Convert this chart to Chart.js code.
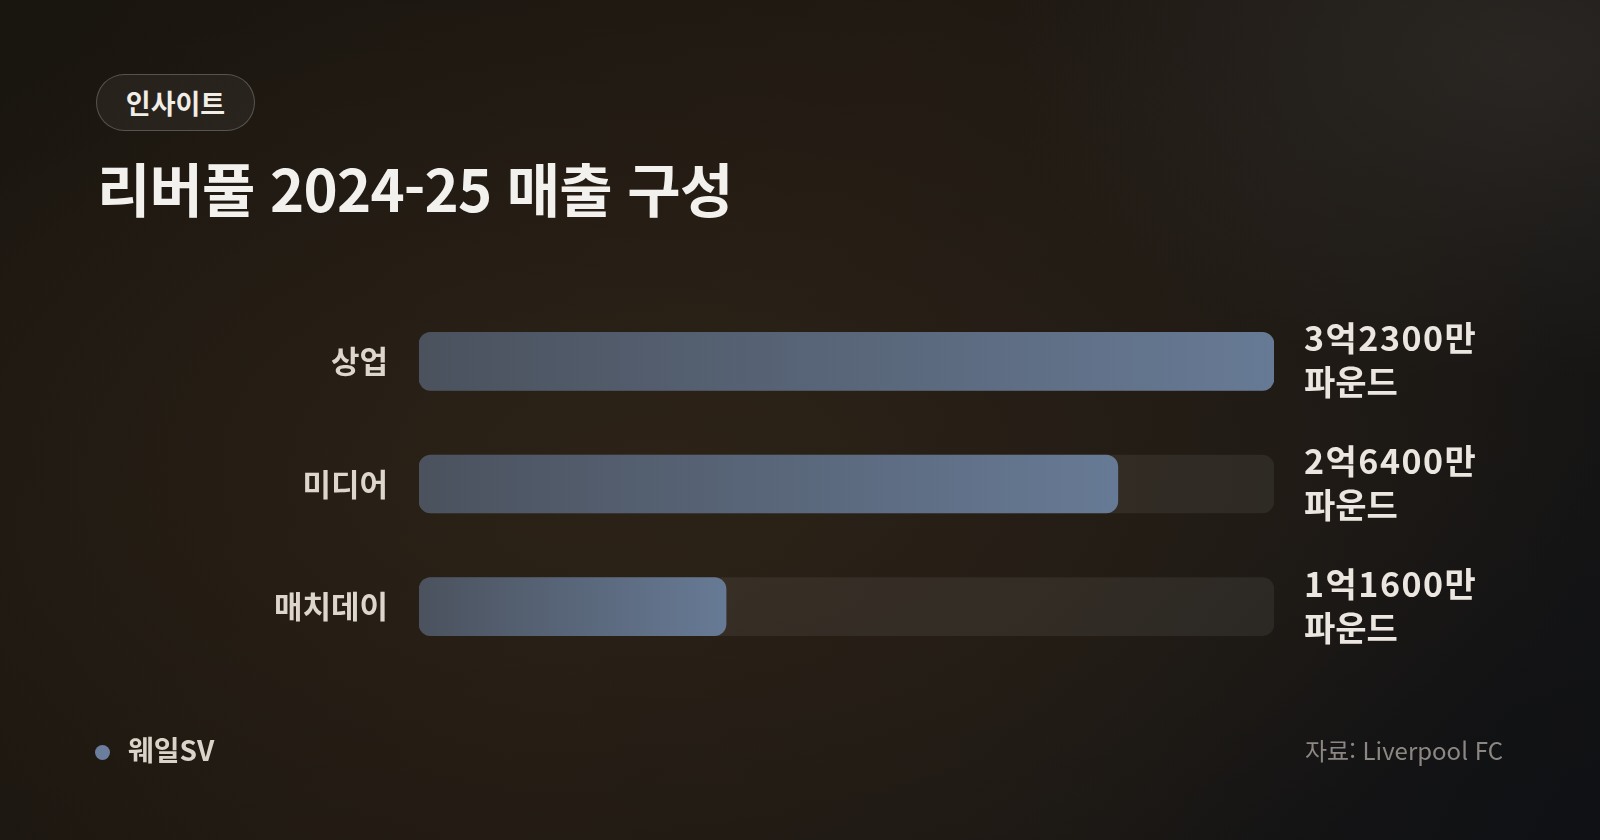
<!DOCTYPE html>
<html lang="ko">
<head>
<meta charset="utf-8">
<script src="https://cdn.jsdelivr.net/npm/chart.js@4.4.1/dist/chart.umd.min.js"></script>
<style>
  html, body { margin: 0; padding: 0; }
  body {
    width: 1600px; height: 840px; overflow: hidden; position: relative;
    font-family: "Noto Sans CJK KR", "Noto Sans", sans-serif;
    background:
      radial-gradient(ellipse 520px 320px at 1520px 60px, rgba(70,66,62,0.35), rgba(70,66,62,0)),
      radial-gradient(ellipse 950px 520px at 650px 470px, rgba(45,35,24,0.95), rgba(45,35,24,0)),
      radial-gradient(ellipse 600px 400px at 1600px 840px, rgba(16,17,20,0.9), rgba(16,17,20,0)),
      linear-gradient(120deg, #19150f 0%, #201912 45%, #1a1714 75%, #121315 100%);
  }
  .pill {
    position: absolute; left: 96px; top: 74px; width: 157px; height: 55px;
    border: 1px solid rgba(255,255,255,0.22); border-radius: 29px;
    background: rgba(255,255,255,0.05);
    color: #f1ede7; font-weight: 700; font-size: 27px;
    display: flex; align-items: center; justify-content: center;
  }
  .title {
    position: absolute; left: 97px; top: 158px;
    color: #f3f1ee; font-weight: 700; font-size: 58px; line-height: 1;
    letter-spacing: -0.8px; white-space: nowrap;
  }
  #chart { position: absolute; left: 0; top: 0; }
  .brand {
    position: absolute; left: 95px; top: 731px; height: 36px;
    display: flex; align-items: center;
    color: #dad3c9; font-weight: 700; font-size: 28px;
  }
  .brand .dot {
    width: 15px; height: 15px; border-radius: 50%; background: #6b7e9e;
    margin-right: 18px; margin-top: 6px;
  }
  .source {
    position: absolute; right: 97px; top: 731px; height: 36px;
    display: flex; align-items: center;
    color: #8c8782; font-size: 24px;
  }
</style>
</head>
<body>
<div class="pill">인사이트</div>
<div class="title">리버풀 2024-25 매출 구성</div>
<canvas id="chart" width="1600" height="840"></canvas>
<div class="brand"><span class="dot"></span>웨일SV</div>
<div class="source">자료: Liverpool FC</div>
<script>
// 단위: 백만 파운드
const categories = ["상업", "미디어", "매치데이"];
const revenue = [323, 264, 116];
const valueLabels = ["3억2300만", "2억6400만", "1억1600만"];
const unitLabel = "파운드";
const trackMax = 323;

const FONT = "'Noto Sans CJK KR', 'Noto Sans', sans-serif";

const valueLabelPlugin = {
	id: "valueLabels",
	afterDatasetsDraw(chart) {
		const ctx = chart.ctx;
		const meta = chart.getDatasetMeta(0);
		const x = chart.chartArea.right + 30;
		ctx.save();
		ctx.fillStyle = "#ebe6df";
		ctx.font = "700 34px " + FONT;
		ctx.textAlign = "left";
		ctx.textBaseline = "middle";
		meta.data.forEach((bar, i) => {
			ctx.letterSpacing = "1.5px";
			ctx.fillText(valueLabels[i], x, bar.y - 23);
			ctx.letterSpacing = "0px";
			ctx.fillText(unitLabel, x, bar.y + 21);
		});
		ctx.restore();
	},
};

function barGradient(context) {
	const chart = context.chart;
	const xScale = chart.scales.x;
	if (!chart.chartArea || !xScale) return "#5a6578";
	const x0 = xScale.getPixelForValue(0);
	const x1 = xScale.getPixelForValue(context.raw);
	const g = chart.ctx.createLinearGradient(x0, 0, x1, 0);
	g.addColorStop(0, "#4b525e");
	g.addColorStop(1, "#677a95");
	return g;
}

new Chart(document.getElementById("chart"), {
	type: "bar",
	data: {
		labels: categories,
		datasets: [
			{
				data: revenue,
				backgroundColor: barGradient,
				borderRadius: 12,
				borderSkipped: false,
				barThickness: 58,
				grouped: false,
				order: 0,
			},
			{
				data: categories.map(() => trackMax),
				backgroundColor: "rgba(255,255,255,0.065)",
				borderRadius: 12,
				borderSkipped: false,
				barThickness: 58,
				grouped: false,
				order: 1,
			},
		],
	},
	options: {
		indexAxis: "y",
		responsive: false,
		animation: false,
		layout: { padding: { top: 300, bottom: 172, left: 0, right: 326 } },
		plugins: { legend: { display: false }, tooltip: { enabled: false } },
		scales: {
			x: { display: false, min: 0, max: trackMax },
			y: {
				grid: { display: false, drawTicks: false },
				border: { display: false },
				ticks: {
					padding: 31,
					color: "#ddd6cc",
					font: { family: FONT, size: 31, weight: "700" },
				},
				afterFit(scale) {
					scale.width = 419;
				},
			},
		},
	},
	plugins: [valueLabelPlugin],
});
</script>
</body>
</html>
